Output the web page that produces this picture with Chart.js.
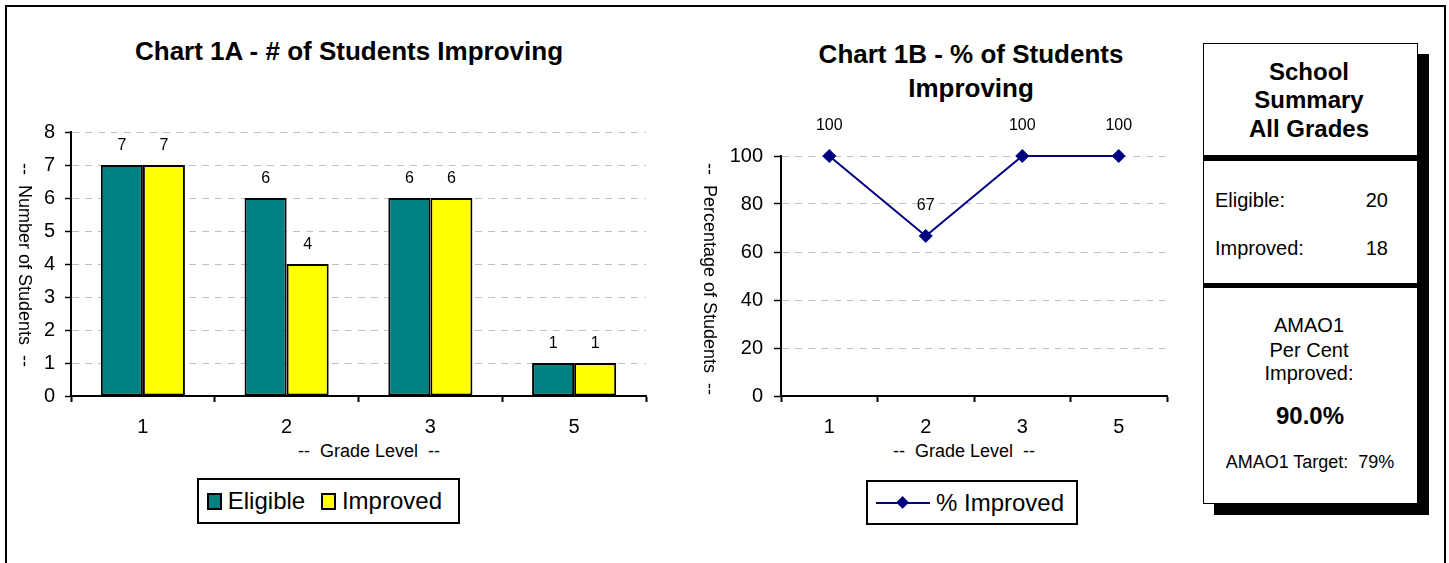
<!DOCTYPE html>
<html>
<head>
<meta charset="utf-8">
<title>Students Improving</title>
<script src="https://cdn.jsdelivr.net/npm/chart.js@4.4.1/dist/chart.umd.min.js"></script>
<style>
  html, body { margin: 0; padding: 0; background: #fff; width: 1449px; height: 563px; overflow: hidden; }
  body { position: relative; font-family: "Liberation Sans", Arial, sans-serif; color: #000; }
  .frame { position: absolute; left: 5px; top: 5px; width: 1437px; height: 640px; border: 2px solid #000; }
  canvas { position: absolute; }
  .txt { position: absolute; transform: translate(-50%, -50%); white-space: pre; line-height: 1.2; }
  .left { transform: translate(0, -50%); }
  .right { transform: translate(-100%, -50%); }
  .vert { writing-mode: vertical-rl; }
  .title { font-weight: bold; font-size: 26px; }
  .axis-title { font-size: 18px; }
  .legend { position: absolute; box-sizing: border-box; border: 2px solid #000; background: #fff;
            display: flex; align-items: center; padding-left: 8px; font-size: 24px; }
  .swatch { width: 17px; height: 17px; box-sizing: border-box; border: 2px solid #000; margin-right: 6px; }
  .legend .name { margin-right: 16px; }
  .line-key { position: relative; width: 54px; height: 2px; margin-right: 6px; }
  .line-key i { position: absolute; left: 22.4px; top: -3.6px; width: 9.2px; height: 9.2px; transform: rotate(45deg); }
  .summary { position: absolute; left: 1203px; top: 43px; width: 215px; height: 461px; box-sizing: border-box;
             border: 1px solid #000; background: #fff; box-shadow: 11px 11px 0 #000; }
  .divider { position: absolute; left: 1203px; width: 215px; background: #000; }
</style>
</head>
<body>
<div class="frame"></div>

<canvas id="chartA" width="660" height="330" style="left:0px; top:110px;"></canvas>
<canvas id="chartB" width="490" height="330" style="left:690px; top:110px;"></canvas>

<div class="txt title" style="left:349px; top:52px;">Chart 1A - # of Students Improving</div>
<div class="txt title" style="left:971px; top:71px; line-height:33.5px; text-align:center;">Chart 1B - % of Students
Improving</div>

<div class="txt axis-title vert" style="left:24px; top:265px;">--  Number of Students  --</div>
<div class="txt axis-title vert" style="left:709px; top:279px;">--  Percentage of Students  --</div>
<div class="txt axis-title" style="left:369px; top:452px;">--  Grade Level  --</div>
<div class="txt axis-title" style="left:964px; top:452px;">--  Grade Level  --</div>

<div id="legendA" class="legend" style="left:197px; top:478px; width:263px; height:46px;"></div>
<div id="legendB" class="legend" style="left:866px; top:480px; width:212px; height:45px;"></div>

<div class="summary"></div>
<div class="divider" style="top:155px; height:6px;"></div>
<div class="divider" style="top:283px; height:5px;"></div>
<div id="summaryText"></div>

<script>
// Values
const grades = ['1', '2', '3', '5'];
const eligible = [7, 6, 6, 1];
const improved = [7, 4, 6, 1];
const pctImproved = [100, 66.7, 100, 100];
const countTicks = [0, 1, 2, 3, 4, 5, 6, 7, 8];
const pctTicks = [0, 20, 40, 60, 80, 100];

const barNames = ['Eligible', 'Improved'];
const barColors = ['#008080', '#ffff00'];
const lineName = '% Improved';
const lineColor = '#000080';

// School summary figures
const eligibleTotal = 20;
const improvedTotal = 18;
const percentImproved = '90.0%';
const amaoTarget = '79%';

const fontFamily = '"Liberation Sans", Arial, sans-serif';
Chart.defaults.font.family = fontFamily;
Chart.defaults.color = '#000';

// Draws the value above each bar / point
const valueLabels = {
    id: 'valueLabels',
    afterDatasetsDraw(chart, args, opts) {
        const ctx = chart.ctx;
        ctx.save();
        ctx.font = '16px ' + fontFamily;
        ctx.fillStyle = '#000';
        ctx.textAlign = 'center';
        ctx.textBaseline = 'middle';
        chart.data.datasets.forEach((ds, i) => {
            chart.getDatasetMeta(i).data.forEach((el, j) => {
                ctx.fillText(String(Math.round(ds.data[j])), el.x, el.y - opts.offset);
            });
        });
        ctx.restore();
    }
};

function xScale(extra) {
    return Object.assign({
        grid: { offset: true, drawOnChartArea: false, drawTicks: true, tickLength: 6, tickColor: '#000', tickWidth: 2 },
        border: { color: '#000', width: 2 },
        ticks: { color: '#000', font: { size: 20 }, padding: 13 },
        afterFit: s => { s.height = 44; }
    }, extra);
}

function yScale(max, ticks, width, tickLen, pad) {
    return {
        min: 0, max: max,
        grid: { color: '#c0c0c0', lineWidth: 1, tickLength: tickLen, tickColor: '#000', tickWidth: 1.5 },
        border: { color: '#000', width: 2, dash: [7, 6] },
        ticks: { color: '#000', font: { size: 20 }, padding: pad },
        afterBuildTicks: s => { s.ticks = ticks.map(v => ({ value: v })); },
        afterFit: s => { s.width = width; }
    };
}

new Chart(document.getElementById('chartA'), {
    type: 'bar',
    data: {
        labels: grades,
        datasets: [
            { label: barNames[0], data: eligible, backgroundColor: barColors[0], borderColor: '#000', borderWidth: 2, borderSkipped: false },
            { label: barNames[1], data: improved, backgroundColor: barColors[1], borderColor: '#000', borderWidth: 2, borderSkipped: false }
        ]
    },
    options: {
        responsive: false,
        animation: false,
        categoryPercentage: 0.585,
        barPercentage: 1.0,
        layout: { padding: { top: 20, right: 14, left: 0, bottom: 0 } },
        plugins: { legend: { display: false }, tooltip: { enabled: false }, valueLabels: { offset: 19 } },
        scales: {
            x: xScale({}),
            y: yScale(8, countTicks, 71, 6, 10)
        }
    },
    plugins: [valueLabels]
});

new Chart(document.getElementById('chartB'), {
    type: 'line',
    data: {
        labels: grades,
        datasets: [{
            label: lineName, data: pctImproved,
            borderColor: lineColor, backgroundColor: lineColor, borderWidth: 2,
            pointStyle: 'rectRot', pointRadius: 6.5, pointBorderWidth: 1,
            tension: 0, clip: false
        }]
    },
    options: {
        responsive: false,
        animation: false,
        layout: { padding: { top: 46, right: 13, left: 0, bottom: 0 } },
        plugins: { legend: { display: false }, tooltip: { enabled: false }, valueLabels: { offset: 30 } },
        scales: {
            x: xScale({ offset: true }),
            y: yScale(100, pctTicks, 91, 7, 11)
        }
    },
    plugins: [valueLabels]
});

// Legends
const legendA = document.getElementById('legendA');
barNames.forEach((name, i) => {
    const sw = document.createElement('span');
    sw.className = 'swatch';
    sw.style.background = barColors[i];
    const label = document.createElement('span');
    label.className = 'name';
    label.textContent = name;
    legendA.appendChild(sw);
    legendA.appendChild(label);
});

const legendB = document.getElementById('legendB');
const key = document.createElement('span');
key.className = 'line-key';
key.style.background = lineColor;
const diamond = document.createElement('i');
diamond.style.background = lineColor;
key.appendChild(diamond);
const keyLabel = document.createElement('span');
keyLabel.textContent = lineName;
legendB.appendChild(key);
legendB.appendChild(keyLabel);

// Summary box texts
const summaryItems = [
    ['School', 1309, 72, 24, true, ''],
    ['Summary', 1309, 100, 24, true, ''],
    ['All Grades', 1309, 129, 24, true, ''],
    ['Eligible:', 1215, 200, 20, false, 'left'],
    [String(eligibleTotal), 1388, 200, 20, false, 'right'],
    ['Improved:', 1215, 248, 20, false, 'left'],
    [String(improvedTotal), 1388, 248, 20, false, 'right'],
    ['AMAO1', 1309, 325, 20, false, ''],
    ['Per Cent', 1309, 350, 20, false, ''],
    ['Improved:', 1309, 373, 20, false, ''],
    [percentImproved, 1310, 416, 24, true, ''],
    ['AMAO1 Target:  ' + amaoTarget, 1310, 463, 18, false, '']
];
const summaryText = document.getElementById('summaryText');
summaryItems.forEach(([text, x, y, size, bold, cls]) => {
    const d = document.createElement('div');
    d.className = 'txt ' + cls;
    d.style.left = x + 'px';
    d.style.top = y + 'px';
    d.style.fontSize = size + 'px';
    d.style.fontWeight = bold ? 'bold' : 'normal';
    d.textContent = text;
    summaryText.appendChild(d);
});
</script>
</body>
</html>
